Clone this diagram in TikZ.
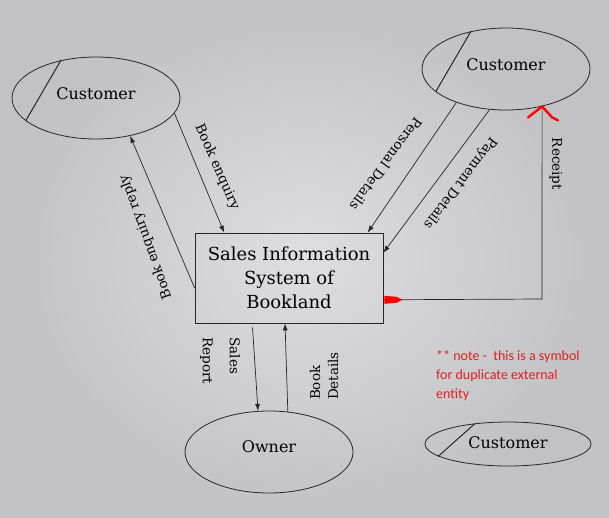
\documentclass[tikz,border=0pt]{standalone}
\usepackage{fontspec}
\setmainfont{DejaVu Serif}
\newfontfamily\notefont{Carlito}
\usetikzlibrary{shapes.geometric,arrows.meta,calc}

\begin{document}
\begin{tikzpicture}[x=1pt, y=-1pt,
  entity/.style={ellipse, draw=black!85, line width=0.8pt, inner sep=0pt, minimum width=168pt, minimum height=82pt, text depth=8pt, font=\fontsize{16}{19}\selectfont},
  flow/.style={draw=black!85, line width=0.7pt, -{Latex[length=7pt,width=5pt]}},
  plain/.style={draw=black!85, line width=0.7pt},
  flowlabel/.style={inner sep=0pt, font=\fontsize{13.5}{18}\selectfont},
  redmark/.style={draw=red, line width=2.4pt, line cap=round, line join=round}]
\definecolor{bgin}{HTML}{DEDEE0}
\definecolor{bgout}{HTML}{C2C2C4}
\definecolor{notered}{HTML}{DC2020}
\shade[inner color=bgin, outer color=bgout] (0,0) rectangle (609,517);
\useasboundingbox (0,0) rectangle (609,517);
% entities and process
\node[entity] (cl) at (96,98) {Customer};
\node[entity] (cr) at (506,69) {Customer};
\node[entity, text depth=10pt] (ow) at (269,452) {Owner};
\node[entity, minimum width=166pt, minimum height=44pt, text depth=2pt] (cd) at (508,444) {Customer};
\node[draw=black!85, line width=0.8pt, inner sep=0pt, minimum width=188pt, minimum height=90pt, align=center, font=\fontsize{18}{24}\selectfont] (sys) at (289,278) {Sales Information\\System of\\Bookland};
% duplicate marks
\draw[plain, line width=1pt] (cl.133) -- (cl.198);
\draw[plain, line width=1pt] (cr.133) -- (cr.198);
\draw[plain, line width=1pt] (cd.148) -- (cd.190);
% flows
\draw[flow] (cl.-11) -- (sys.145);
\draw[flow] (sys.186) -- (cl.-48);
\draw[flow] (cr.214) -- (sys.30);
\draw[flow] (cr.248) -- (sys.15);
\coordinate (rcorner) at (542,299);
\draw[plain] (sys.-13) -- (rcorner) -- (cr.-46);
\draw[flow, shorten <=4pt] (sys.-129) -- (ow.105);
\draw[flow] (ow.65) -- (sys.-95);
% labels
\node[flowlabel, rotate=-66] (lenq) at (217,167) {Book enquiry};
\node[flowlabel, rotate=110] (lrep) at (146,237) {Book enquiry reply};
\node[flowlabel, rotate=-126.5] (lpers) at (386,164) {Personal Details};
\node[flowlabel, rotate=-127.5] (lpay) at (460,183) {Payment Details};
\node[flowlabel, rotate=-90] (lrec) at (556,164) {Receipt};
\node[flowlabel, rotate=-90, align=left] (lsales) at (220,361) {Sales\\[9pt]Report};
\node[flowlabel, rotate=90, align=left] (lbook) at (324,376) {Book\\Details};
% hand marks and note
\draw[redmark] ($(cr.-46)+(-14,11)$) -- (cr.-46) -- ($(cr.-46)+(10,11)$) -- ($(cr.-46)+(16,14)$);
\fill[red] (sys.-13) ++(1,-4) -- ++(12,1) -- ++(6,3) -- ++(-6,3) -- ++(-12,1) -- cycle;
\node[anchor=north west, inner sep=0pt, align=left, text=notered, font=\notefont\fontsize{14}{19}\selectfont] (note) at (436,350) {** note -\ \ this is a symbol\\for duplicate external\\entity};
\end{tikzpicture}
\end{document}
